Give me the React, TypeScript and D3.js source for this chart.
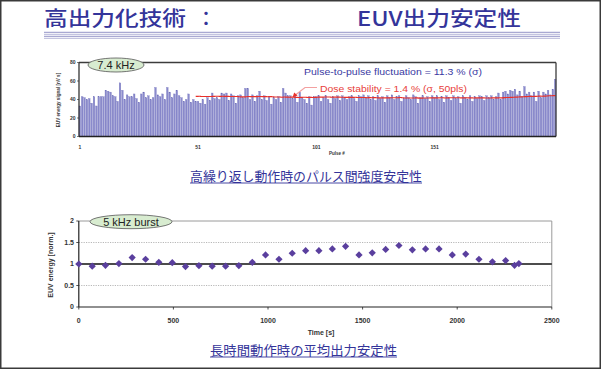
import React from "react";
import * as d3 from "d3";

const pulseValues: number[] = [
  33, 43, 42, 40, 41, 36, 43, 33, 43, 43, 43, 50, 49, 48, 44, 43, 38, 58, 50, 40,
  45, 43, 43, 46, 41, 37, 46, 48, 42, 44, 40, 42, 53, 45, 43, 46, 40, 53, 48, 42,
  46, 50, 44, 42, 38, 40, 46, 37, 40, 38,
  38, 36, 40, 35, 42, 39, 47, 41, 42, 40, 47, 46, 47, 39, 46, 44, 36, 44, 45, 42,
  52, 52, 40, 45, 38, 44, 49, 40, 44, 39, 43, 35, 42, 40, 43, 37, 52, 47, 44, 44,
  41, 45, 37, 48, 42, 40, 36, 43, 34, 43,
  43, 44, 38, 42, 44, 40, 36, 43, 41, 44, 39, 44, 42, 40, 43, 44, 41, 38, 44, 43,
  45, 42, 44, 40, 43, 39, 44, 41, 43, 37, 44, 42, 45, 40, 43, 44, 38, 41, 44, 42,
  40, 45, 43, 36, 42, 44, 41, 43, 38, 44,
  42, 44, 40, 43, 37, 44, 42, 39, 44, 41, 43, 36, 44, 42, 40, 44, 38, 43, 41, 44,
  43, 39, 44, 42, 44, 40, 43, 47, 40, 48, 49, 46, 50, 49, 51, 45, 49, 43, 54, 46,
  48, 44, 48, 38, 49, 42, 48, 46, 50, 45, 51, 62,
];
const pulseIds: number[] = pulseValues.map((_, i) => i + 1);
const pulseTickLabels: number[] = [1, 51, 101, 151];
const energyTicks: number[] = [0, 20, 40, 60, 80];
const doseWindow = 50;

const burstTimes: number[] = [
  0, 71, 141, 212, 282, 353, 423, 494, 564, 635, 705, 776, 846, 917, 987, 1058,
  1128, 1199, 1269, 1340, 1410, 1481, 1551, 1622, 1692, 1763, 1833, 1904, 1974,
  2045, 2115, 2186, 2256, 2303, 2326,
];
const burstEnergy: number[] = [
  1.0, 0.95, 0.97, 1.01, 1.15, 1.11, 1.04, 1.03, 0.94, 0.96, 0.95, 0.95, 0.96,
  1.04, 1.21, 1.11, 1.25, 1.31, 1.31, 1.35, 1.41, 1.21, 1.26, 1.34, 1.43, 1.33,
  1.35, 1.35, 1.21, 1.23, 1.11, 1.05, 1.08, 0.97, 1.01,
];
const timeTicks: number[] = [0, 500, 1000, 1500, 2000, 2500];
const normTicks: number[] = [0, 0.5, 1, 1.5, 2];

const BLUE = "#34349a";
const SANS = "'Liberation Sans', Arial, sans-serif";
const CJK = "'Noto Sans CJK JP', sans-serif";

export default function App() {
  // top chart scales
  const xTop = d3.scaleBand<number>().domain(pulseIds).range([79, 556]).paddingInner(0.32);
  const yTop = d3.scaleLinear().domain([0, 80]).range([136.5, 62.5]);
  const bw = xTop.bandwidth();
  const cx = (p: number) => (xTop(p) as number) + bw / 2;

  // rolling dose average
  const dose: [number, number][] = [];
  for (let i = doseWindow - 1; i < pulseValues.length; i++) {
    const m = d3.mean(pulseValues.slice(i - doseWindow + 1, i + 1)) as number;
    dose.push([pulseIds[i], m]);
  }
  const doseLine = d3
    .line<[number, number]>()
    .x((d) => cx(d[0]))
    .y((d) => yTop(d[1]))
    .curve(d3.curveStepAfter);

  // bottom chart scales
  const xB = d3.scaleLinear().domain([0, 2500]).range([78.8, 551.8]);
  const yB = d3.scaleLinear().domain([0, 2]).range([307, 221]);
  const diamond = d3.symbol(d3.symbolSquare, 26)() as string;

  return (
    <svg
      width={601}
      height={369}
      style={{ position: "fixed", left: 0, top: 0, background: "#fff" }}
    >
      <rect x={0} y={0} width={601} height={369} fill="#fff" />
      <rect x={0.75} y={0.75} width={599.5} height={367.5} fill="none" stroke="#3a3a3a" strokeWidth={1.5} />

      {/* Title */}
      <text x={44} y={25.5} fontFamily={CJK} fontSize={20} fontWeight={500} fill={BLUE} textLength={142} lengthAdjust="spacingAndGlyphs">
        高出力化技術
      </text>
      <text x={196} y={25.5} fontFamily={CJK} fontSize={20} fontWeight={500} fill={BLUE}>
        ：
      </text>
      <text x={357} y={25.5} fontFamily={CJK} fontSize={20} fontWeight={500} fill={BLUE} textLength={164} lengthAdjust="spacingAndGlyphs">
        EUV出力安定性
      </text>
      {[32.3, 34.3, 36.3, 38.3].map((y, i) => (
        <line key={i} x1={44} x2={560} y1={y} y2={y} stroke={i % 2 === 0 ? "#a9a9d2" : "#c4c4e0"} strokeWidth={1.2} />
      ))}

      {/* ===== Top chart ===== */}
      <g>
        {pulseIds.map((p, i) => (
          <rect
            key={p}
            x={xTop(p)}
            y={yTop(pulseValues[i])}
            width={bw}
            height={yTop(0) - yTop(pulseValues[i])}
            fill="#8a8acc"
            stroke="#6c6cb8"
            strokeWidth={0.3}
          />
        ))}
        <path d={doseLine(dose) as string} fill="none" stroke="#e8302a" strokeWidth={1.1} />
        {/* frame */}
        <line x1={79} x2={556} y1={62.5} y2={62.5} stroke="#3c3c3c" strokeWidth={1.3} />
        <line x1={556} x2={556} y1={62.5} y2={136.5} stroke="#3c3c3c" strokeWidth={1.3} />
        <line x1={79} x2={79} y1={62.5} y2={136.5} stroke="#222" strokeWidth={1.2} />
        <line x1={79} x2={556} y1={136.5} y2={136.5} stroke="#222" strokeWidth={1.5} />
        {energyTicks.map((t) => (
          <g key={t}>
            <line x1={77} x2={79} y1={yTop(t)} y2={yTop(t)} stroke="#222" strokeWidth={0.6} />
            <text x={75.5} y={yTop(t) + 1.8} fontFamily={SANS} fontSize={5} fontWeight="bold" textAnchor="end" fill="#333">
              {t}
            </text>
          </g>
        ))}
        {pulseTickLabels.map((p) => (
          <text key={p} x={cx(p)} y={149} fontFamily={SANS} fontSize={5} fontWeight="bold" textAnchor="middle" fill="#333">
            {p}
          </text>
        ))}
        <text x={337} y={155} fontFamily={SANS} fontSize={4.5} fontWeight="bold" textAnchor="middle" fill="#333">
          Pulse #
        </text>
        <text
          transform="translate(60,100) rotate(-90)"
          fontFamily={SANS}
          fontSize={4.6}
          fontWeight="bold"
          textAnchor="middle"
          fill="#333"
        >
          EUV energy signal [nV s]
        </text>
        {/* ellipse label */}
        <ellipse cx={116} cy={65} rx={28} ry={7} fill="#d8ecd0" stroke="#555" strokeWidth={0.8} />
        <text x={116} y={69} fontFamily={SANS} fontSize={11} textAnchor="middle" fill="#222">
          7.4 kHz
        </text>
        {/* annotations */}
        <text x={304} y={75} fontFamily={SANS} fontSize={9.5} fill="#3a3aa2" textLength={178} lengthAdjust="spacingAndGlyphs">
          Pulse-to-pulse fluctuation = 11.3 % (σ)
        </text>
        <text x={320} y={92} fontFamily={SANS} fontSize={9.5} fill="#e8403a" textLength={147} lengthAdjust="spacingAndGlyphs">
          Dose stability = 1.4 % (σ, 50pls)
        </text>
        <polyline points="317,87.5 305,87.5 296,94.5" fill="none" stroke="#f3a0a0" strokeWidth={1.2} />
        <path d="M292.5,97.5 L294.2,92.6 L297.6,95.6 Z" fill="#e8302a" />
      </g>

      {/* caption 1 */}
      <text x={190} y={181} fontFamily={CJK} fontSize={13} fill={BLUE} textLength={232} lengthAdjust="spacingAndGlyphs">
        高繰り返し動作時のパルス間強度安定性
      </text>
      <line x1={190} x2={422} y1={183} y2={183} stroke={BLUE} strokeWidth={0.9} />

      {/* ===== Bottom chart ===== */}
      <g>
        {[0.5, 1.5].map((v) => (
          <line key={v} x1={xB(0)} x2={xB(2500)} y1={yB(v)} y2={yB(v)} stroke="#999" strokeWidth={0.7} strokeDasharray="1.2,1.2" />
        ))}
        <line x1={xB(0)} x2={xB(2500)} y1={yB(2)} y2={yB(2)} stroke="#9a9a9a" strokeWidth={1} />
        <line x1={xB(2500)} x2={xB(2500)} y1={yB(2)} y2={yB(0)} stroke="#9a9a9a" strokeWidth={1} />
        <line x1={xB(0)} x2={xB(2500)} y1={yB(1)} y2={yB(1)} stroke="#111" strokeWidth={1.6} />
        <line x1={xB(0)} x2={xB(0)} y1={yB(2)} y2={yB(0)} stroke="#222" strokeWidth={1.2} />
        <line x1={xB(0)} x2={xB(2500)} y1={yB(0)} y2={yB(0)} stroke="#222" strokeWidth={1.2} />
        {normTicks.map((t) => (
          <g key={t}>
            <line x1={xB(0) - 2.5} x2={xB(0)} y1={yB(t)} y2={yB(t)} stroke="#222" strokeWidth={0.8} />
            <text x={74} y={yB(t) + 2.4} fontFamily={SANS} fontSize={7} fontWeight="bold" textAnchor="end" fill="#333">
              {t}
            </text>
          </g>
        ))}
        {timeTicks.map((t) => (
          <g key={t}>
            <line x1={xB(t)} x2={xB(t)} y1={yB(0)} y2={yB(0) + 2.5} stroke="#222" strokeWidth={0.8} />
            <text x={xB(t)} y={322.5} fontFamily={SANS} fontSize={7} fontWeight="bold" textAnchor="middle" fill="#333">
              {t}
            </text>
          </g>
        ))}
        <text x={321} y={334.5} fontFamily={SANS} fontSize={7} fontWeight="bold" textAnchor="middle" fill="#333">
          Time [s]
        </text>
        <text
          transform="translate(52.5,265) rotate(-90)"
          fontFamily={SANS}
          fontSize={7}
          fontWeight="bold"
          textAnchor="middle"
          fill="#333"
        >
          EUV energy  [norm.]
        </text>
        {burstTimes.map((t, i) => (
          <path
            key={i}
            d={diamond}
            transform={`translate(${xB(t)},${yB(burstEnergy[i])}) rotate(45)`}
            fill="#5a3f9e"
          />
        ))}
        <ellipse cx={131} cy={221.7} rx={41} ry={7} fill="#d8ecd0" stroke="#555" strokeWidth={0.8} />
        <text x={131} y={225.7} fontFamily={SANS} fontSize={11} textAnchor="middle" fill="#222">
          5 kHz burst
        </text>
      </g>

      {/* caption 2 */}
      <text x={210} y={355} fontFamily={CJK} fontSize={13} fill={BLUE} textLength={187} lengthAdjust="spacingAndGlyphs">
        長時間動作時の平均出力安定性
      </text>
      <line x1={210} x2={397} y1={357} y2={357} stroke={BLUE} strokeWidth={0.9} />
    </svg>
  );
}
